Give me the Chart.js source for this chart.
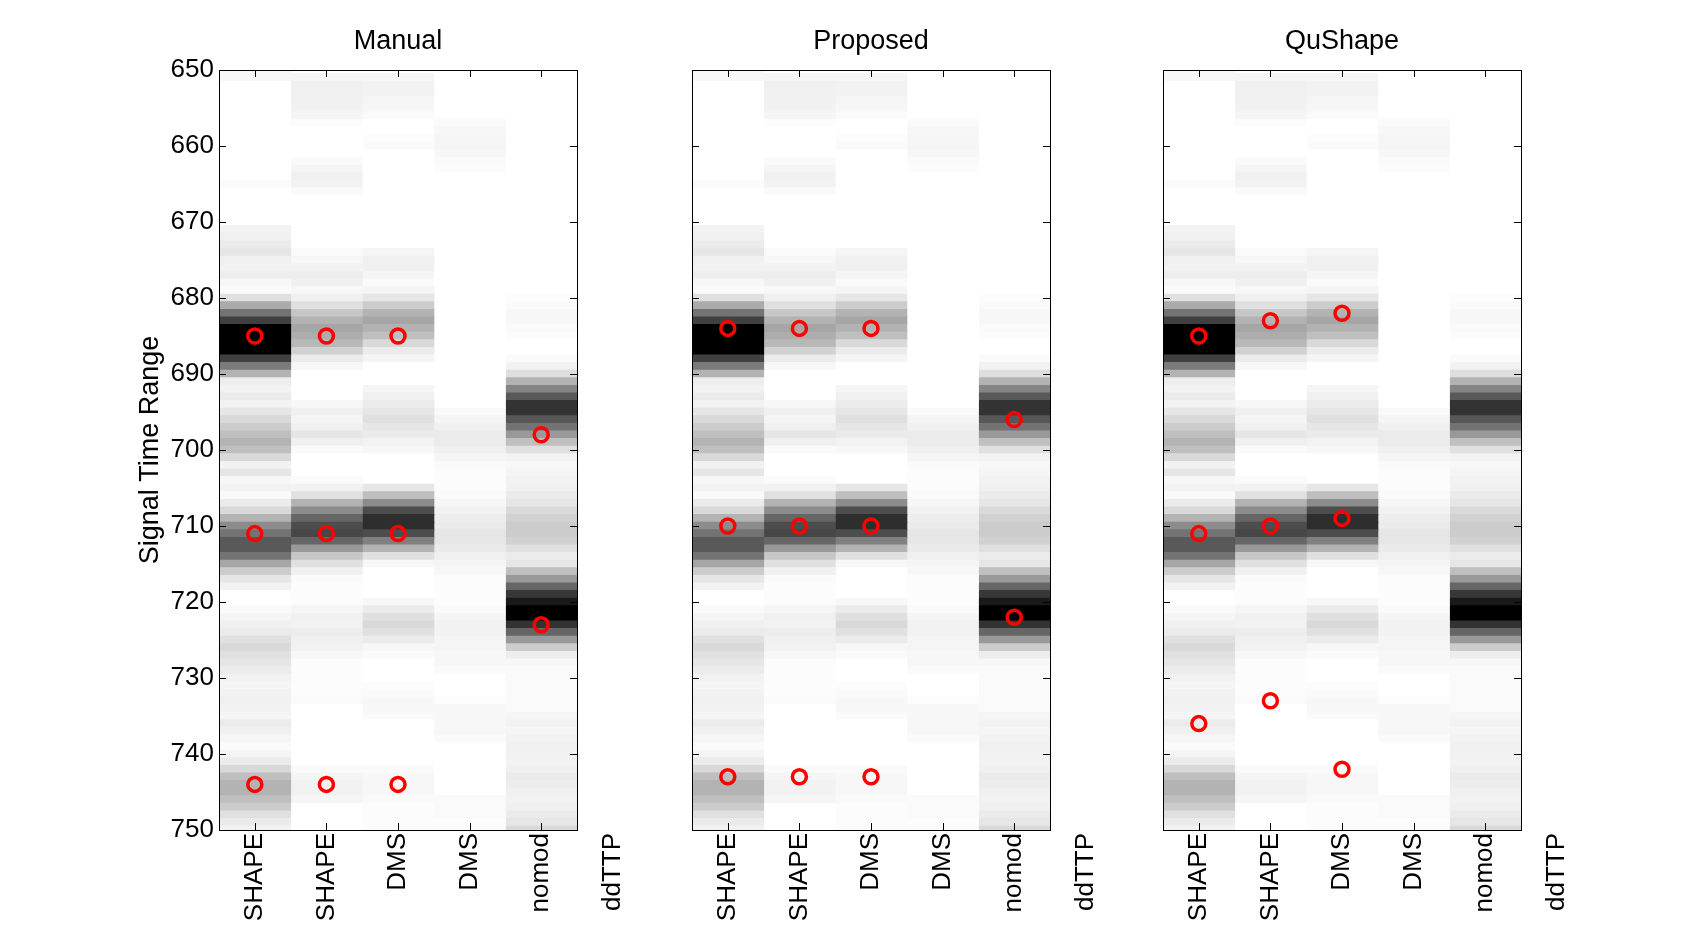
<!DOCTYPE html>
<html>
<head>
<meta charset="utf-8">
<title>Signal time range</title>
<script src="https://cdn.jsdelivr.net/npm/chart.js@4.4.0/dist/chart.umd.min.js"></script>
<style>
  body { margin: 0; background: #fff; }
  #wrap { position: relative; width: 1681px; height: 933px; overflow: hidden; }
  canvas { position: absolute; top: 0; }
</style>
</head>
<body>
<div id="wrap">
  <canvas id="c0" width="538" height="933" style="left:109px"></canvas>
  <canvas id="c1" width="538" height="933" style="left:582px"></canvas>
  <canvas id="c2" width="538" height="933" style="left:1053px"></canvas>
</div>
<script>
// lane labels (last one sits past the right edge, like the original)
const columnLabels = ['SHAPE', 'SHAPE', 'DMS', 'DMS', 'nomod', 'ddTTP'];
const panelTitles = ['Manual', 'Proposed', 'QuShape'];
const timeStart = 650;
const timeEnd = 750;
const timeStep = 10;

// darkness of each 1-unit row, 650 .. 750 (0 = white, 1 = black)
const shapeA = [
  0.03, 0.03, 0, 0, 0, 0, 0, 0, 0, 0,
  0, 0, 0, 0, 0, 0.02, 0, 0, 0, 0,
  0, 0.05, 0.06, 0.08, 0.1, 0.06, 0.05, 0.07, 0.03, 0.02,
  0.12, 0.33, 0.55, 0.75, 1, 1, 1, 1, 0.75, 0.52,
  0.3, 0.07, 0.05, 0.08, 0.05, 0.1, 0.15, 0.2, 0.25, 0.3,
  0.25, 0.15, 0.05, 0.1, 0.03, 0.05, 0.02, 0.08, 0.15, 0.3,
  0.45, 0.55, 0.65, 0.65, 0.55, 0.35, 0.2, 0.1, 0.05, 0,
  0, 0.02, 0.04, 0.06, 0.08, 0.12, 0.15, 0.12, 0.1, 0.08,
  0.05, 0.04, 0.05, 0.06, 0.05, 0.04, 0.08, 0.06, 0.04, 0.02,
  0.04, 0.08, 0.15, 0.25, 0.3, 0.3, 0.25, 0.2, 0.12, 0.08,
  0.05
];
const shapeB = [
  0, 0.04, 0.06, 0.06, 0.06, 0.05, 0.04, 0.01, 0, 0,
  0, 0, 0.02, 0.04, 0.06, 0.05, 0.02, 0, 0, 0,
  0, 0, 0, 0, 0.02, 0.03, 0.05, 0.07, 0.06, 0.03,
  0.06, 0.12, 0.22, 0.3, 0.35, 0.32, 0.28, 0.18, 0.08, 0.03,
  0, 0, 0, 0, 0.03, 0.06, 0.04, 0.06, 0.1, 0.06,
  0.02, 0, 0, 0, 0.02, 0.05, 0.12, 0.3, 0.45, 0.6,
  0.7, 0.72, 0.6, 0.4, 0.22, 0.12, 0.06, 0.02, 0.01, 0.01,
  0.01, 0.04, 0.06, 0.05, 0.07, 0.06, 0.05, 0.03, 0.01, 0.01,
  0.01, 0.01, 0.01, 0.02, 0, 0, 0, 0, 0, 0,
  0, 0, 0.02, 0.04, 0.05, 0.05, 0.04, 0, 0, 0,
  0
];
const dmsA = [
  0, 0.04, 0.05, 0.05, 0.04, 0.03, 0.02, 0, 0, 0.01,
  0.02, 0, 0, 0, 0, 0, 0, 0, 0, 0,
  0, 0, 0, 0, 0.04, 0.06, 0.06, 0.04, 0.02, 0.04,
  0.1, 0.2, 0.3, 0.35, 0.3, 0.25, 0.15, 0.08, 0.04, 0,
  0, 0, 0.04, 0.06, 0.08, 0.1, 0.12, 0.1, 0.08, 0.05,
  0.03, 0, 0, 0, 0, 0.1, 0.25, 0.45, 0.7, 0.82,
  0.82, 0.7, 0.5, 0.3, 0.12, 0.03, 0, 0, 0, 0,
  0.03, 0.08, 0.12, 0.15, 0.12, 0.08, 0.03, 0.02, 0, 0,
  0, 0.01, 0.02, 0.03, 0.03, 0.02, 0, 0, 0, 0,
  0, 0, 0.02, 0.03, 0.03, 0.03, 0.02, 0.01, 0.01, 0.01,
  0.01
];
const dmsB = [
  0, 0, 0, 0, 0, 0, 0, 0.02, 0.03, 0.04,
  0.04, 0.03, 0.02, 0.01, 0, 0, 0, 0, 0, 0,
  0, 0, 0, 0, 0, 0, 0, 0, 0, 0,
  0, 0, 0, 0, 0, 0, 0, 0, 0, 0,
  0, 0, 0, 0, 0, 0.02, 0.04, 0.06, 0.08, 0.08,
  0.06, 0.04, 0.02, 0.01, 0.01, 0.01, 0.02, 0.03, 0.05, 0.07,
  0.08, 0.1, 0.1, 0.08, 0.06, 0.04, 0.03, 0.01, 0.01, 0.01,
  0.01, 0.02, 0.04, 0.05, 0.05, 0.04, 0.04, 0.03, 0.03, 0.02,
  0, 0, 0, 0.01, 0.03, 0.03, 0.03, 0.03, 0.02, 0,
  0, 0, 0, 0, 0, 0, 0.02, 0.02, 0.02, 0.01,
  0.01
];
const nomod = [
  0, 0, 0, 0, 0, 0, 0, 0, 0, 0,
  0, 0, 0, 0, 0, 0, 0, 0, 0, 0,
  0, 0, 0, 0, 0, 0, 0, 0, 0, 0,
  0.01, 0.02, 0.03, 0.03, 0.02, 0.01, 0, 0, 0.02, 0.05,
  0.13, 0.3, 0.48, 0.65, 0.8, 0.8, 0.66, 0.55, 0.4, 0.25,
  0.12, 0.05, 0.03, 0.04, 0.05, 0.06, 0.08, 0.1, 0.15, 0.18,
  0.2, 0.2, 0.18, 0.12, 0.08, 0.1, 0.25, 0.4, 0.6, 0.78,
  0.9, 1, 1, 0.8, 0.6, 0.4, 0.2, 0.07, 0.03, 0.02,
  0.02, 0.02, 0.02, 0.02, 0.02, 0.04, 0.05, 0.04, 0.05, 0.06,
  0.05, 0.05, 0.06, 0.08, 0.07, 0.06, 0.05, 0.06, 0.08, 0.1,
  0.15
];
const lanes = [shapeA, shapeB, dmsA, dmsB, nomod];

// picked peak times per lane (red circles)
const manualPeaks = [[685, 711, 744], [685, 711, 744], [685, 711, 744], [], [698, 723]];
const proposedPeaks = [[684, 710, 743], [684, 710, 743], [684, 710, 743], [], [696, 722]];
const qushapePeaks = [[685, 711, 736], [683, 710, 733], [682, 709, 742], [], []];
const panelPeaks = [manualPeaks, proposedPeaks, qushapePeaks];

const FONT = "'Liberation Sans', Arial, Helvetica, sans-serif";
const leftPad = 110;
const rightPad = 70;
const topPad = 70;
const xAxisHeight = 103;

const grayOf = d => {
  const g = Math.round(255 * (1 - d));
  return `rgb(${g},${g},${g})`;
};

// box around the axes with short ticks pointing inward on all four sides
const boxPlugin = {
  id: 'box',
  afterDatasetsDraw(chart) {
    const {ctx, chartArea: a, scales: {x, y}} = chart;
    const tl = 7;
    ctx.save();
    ctx.strokeStyle = '#000';
    ctx.lineWidth = 1;
    ctx.beginPath();
    x.ticks.forEach(t => {
      if (t.value < x.min || t.value > x.max) return;
      const px = Math.round(x.getPixelForValue(t.value)) + 0.5;
      ctx.moveTo(px, a.top); ctx.lineTo(px, a.top + tl);
      ctx.moveTo(px, a.bottom); ctx.lineTo(px, a.bottom - tl);
    });
    y.ticks.forEach(t => {
      const py = Math.round(y.getPixelForValue(t.value)) + 0.5;
      ctx.moveTo(a.left, py); ctx.lineTo(a.left + tl, py);
      ctx.moveTo(a.right, py); ctx.lineTo(a.right - tl, py);
    });
    ctx.stroke();
    ctx.strokeRect(Math.round(a.left) + 0.5, Math.round(a.top) + 0.5,
      Math.round(a.width), Math.round(a.height));
    ctx.restore();
  }
};

panelTitles.forEach((title, p) => {
  const circles = [];
  panelPeaks[p].forEach((times, c) => times.forEach(t => circles.push({x: c, y: t})));

  const datasets = [{
    type: 'line',
    xAxisID: 'x',
    yAxisID: 'y',
    data: circles,
    showLine: false,
    pointStyle: 'circle',
    pointRadius: 7,
    pointHoverRadius: 7,
    pointBorderWidth: 3.5,
    pointBorderColor: '#ff0000',
    pointBackgroundColor: 'rgba(0,0,0,0)',
    order: 0
  }];
  lanes.forEach((lane, c) => datasets.push({
    type: 'bar',
    xAxisID: 'x',
    yAxisID: 'y',
    data: lane.map((d, i) => ({x: c, y: [timeStart + i - 0.5, timeStart + i + 0.5]})),
    backgroundColor: lane.map(grayOf),
    borderWidth: 0,
    grouped: false,
    barPercentage: 1,
    categoryPercentage: 1,
    inflateAmount: 0.5,
    order: 1
  }));

  new Chart(document.getElementById('c' + p), {
    type: 'bar',
    data: {datasets},
    options: {
      responsive: false,
      animation: false,
      events: [],
      layout: {padding: {left: 0, right: rightPad, top: 0, bottom: 0}},
      plugins: {
        legend: {display: false},
        tooltip: {enabled: false}
      },
      scales: {
        x: {
          type: 'linear',
          min: -0.5,
          max: 4.5,
          offset: false,
          afterBuildTicks: s => { s.ticks = columnLabels.map((_, i) => ({value: i})); },
          afterFit: s => { s.height = xAxisHeight; s.paddingLeft = 0; s.paddingRight = 0; },
          grid: {display: false, drawTicks: false},
          border: {display: false},
          ticks: {
            autoSkip: false,
            minRotation: 90,
            maxRotation: 90,
            padding: 3,
            color: '#000',
            font: {family: FONT, size: 26},
            callback: v => columnLabels[v]
          }
        },
        // top axis only carries the panel title, centred over the plot box
        xTop: {
          type: 'linear',
          position: 'top',
          min: -0.5,
          max: 4.5,
          offset: false,
          afterFit: s => { s.height = topPad; s.paddingLeft = 0; s.paddingRight = 0; },
          grid: {display: false, drawTicks: false},
          border: {display: false},
          ticks: {display: false},
          title: {
            display: true,
            text: title,
            color: '#000',
            font: {family: FONT, size: 27},
            padding: {top: 25, bottom: 0}
          }
        },
        y: {
          type: 'linear',
          reverse: true,
          min: timeStart,
          max: timeEnd,
          beginAtZero: false,
          afterBuildTicks: s => {
            s.ticks = [];
            for (let v = timeStart; v <= timeEnd; v += timeStep) s.ticks.push({value: v});
          },
          afterFit: s => { s.width = leftPad; },
          grid: {display: false, drawTicks: false},
          border: {display: false},
          title: {
            display: p === 0,
            text: 'Signal Time Range',
            color: '#000',
            font: {family: FONT, size: 27},
            padding: {top: 25, bottom: 0}
          },
          ticks: {display: p === 0, padding: 5, color: '#000', font: {family: FONT, size: 26}}
        }
      }
    },
    plugins: [boxPlugin]
  });
});
</script>
</body>
</html>
